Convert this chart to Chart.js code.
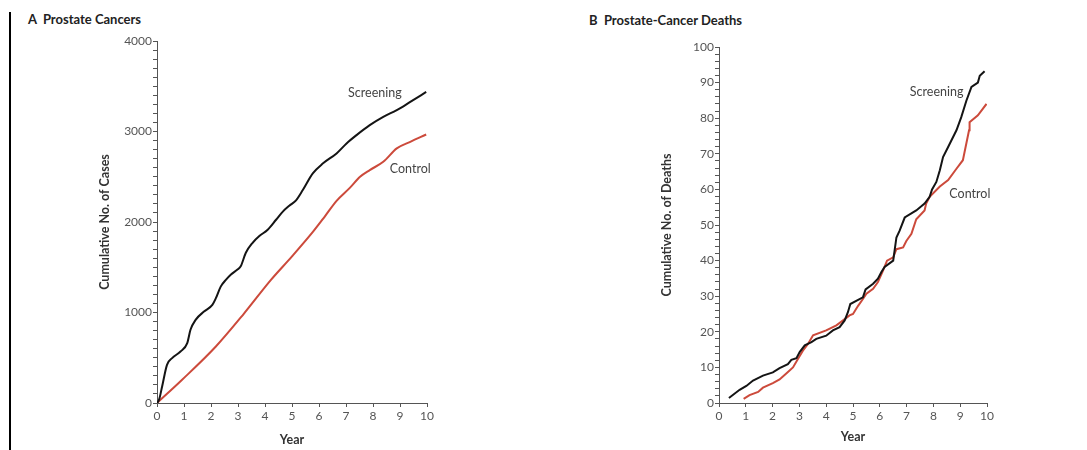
<!DOCTYPE html>
<html>
<head>
<meta charset="utf-8">
<script src="https://cdn.jsdelivr.net/npm/chart.js@4.4.1/dist/chart.umd.min.js"></script>
<style>
  body { margin: 0; background: #fff; width: 1087px; height: 450px; overflow: hidden; position: relative; }
  #bar { position: absolute; left: 9px; top: 12px; width: 2px; height: 438px; background: #000; }
  .title { position: absolute; font: bold 13px Lato, sans-serif; color: #222; white-space: pre; }
  canvas { position: absolute; top: 0; }
</style>
</head>
<body>
<div id="bar"></div>
<div class="title" style="left:28px;top:11px">A  Prostate Cancers</div>
<div class="title" style="left:589px;top:12px">B  Prostate-Cancer Deaths</div>
<canvas id="chartA" width="545" height="450" style="left:0;width:545px;height:450px"></canvas>
<canvas id="chartB" width="542" height="450" style="left:545px;width:542px;height:450px"></canvas>
<script>
// Panel A - cumulative number of prostate cancers
const screeningYearsA = [0, 0.08, 0.19, 0.37, 0.56, 0.87, 1.12, 1.24, 1.43, 1.74, 2.05, 2.18, 2.36, 2.55, 2.74, 2.98, 3.1, 3.29, 3.54, 3.79, 4.1, 4.41, 4.66, 4.9, 5.15, 5.40, 5.77, 6.15, 6.65, 7.02, 7.39, 7.88, 8.38, 8.88, 9.38, 9.97];
const screeningCasesA = [0, 40, 183, 422, 496, 569, 662, 809, 919, 1010, 1084, 1158, 1286, 1360, 1420, 1475, 1510, 1660, 1770, 1845, 1915, 2025, 2115, 2180, 2240, 2353, 2537, 2648, 2758, 2868, 2960, 3070, 3162, 3236, 3327, 3437];
const controlYearsA = [0, 0.93, 2.18, 3.2, 4.22, 5.0, 5.78, 6.2, 6.65, 7.15, 7.52, 7.88, 8.38, 8.88, 9.38, 9.97];
const controlCasesA = [0, 257, 624, 980, 1360, 1620, 1893, 2055, 2234, 2380, 2500, 2574, 2665, 2813, 2886, 2967];

// Panel B - cumulative number of prostate-cancer deaths
const screeningYearsB = [0.37, 0.77, 1.02, 1.27, 1.64, 2.01, 2.26, 2.57, 2.7, 2.89, 3.01, 3.2, 3.45, 3.63, 4.0, 4.25, 4.5, 4.69, 4.81, 4.9, 5.12, 5.37, 5.47, 5.75, 5.93, 6.06, 6.18, 6.5, 6.62, 6.74, 6.93, 7.36, 7.67, 7.86, 7.95, 8.11, 8.24, 8.36, 8.55, 8.86, 9.04, 9.23, 9.42, 9.66, 9.73, 9.91];
const screeningDeathsB = [1.4, 3.7, 4.8, 6.3, 7.7, 8.6, 9.8, 10.9, 12.1, 12.6, 14.3, 16.2, 17.1, 18.0, 18.9, 20.4, 21.3, 23.2, 25.5, 27.8, 28.7, 29.7, 31.9, 33.5, 34.9, 36.8, 38.2, 40, 46.5, 48.4, 52.1, 54.1, 56, 57.9, 60, 62.1, 65.4, 69.1, 71.9, 76.6, 80.3, 84.9, 88.8, 90, 91.9, 93.2];
const controlYearsB = [0.92, 1.14, 1.46, 1.64, 2.01, 2.26, 2.51, 2.76, 2.95, 3.13, 3.32, 3.51, 4.0, 4.38, 4.63, 4.87, 5.0, 5.19, 5.37, 5.5, 5.75, 5.93, 6.12, 6.27, 6.5, 6.62, 6.87, 6.99, 7.18, 7.36, 7.67, 7.73, 7.86, 8.24, 8.55, 8.86, 9.1, 9.33, 9.35, 9.66, 9.98];
const controlDeathsB = [1.15, 2.2, 3.1, 4.3, 5.6, 6.6, 8.3, 10, 12.4, 14.7, 16.6, 19.0, 20.4, 21.8, 23.2, 24.6, 25, 27.3, 29.2, 30.7, 32.1, 34.0, 37.2, 40, 40.9, 43.2, 43.7, 45.5, 47.5, 51.6, 54.1, 56, 57.9, 60.8, 62.6, 65.8, 68.2, 76.6, 78.9, 80.8, 84];

const xTickValues = [0, 1, 2, 3, 4, 5, 6, 7, 8, 9, 10];

const BLACK = '#141414';
const RED = '#cc4a3b';
const AXIS = '#555';

const toPoints = (xs, ys) => xs.map((x, i) => ({ x: x, y: ys[i] }));

// writes "Screening" / "Control" next to the curves, at data coordinates
const seriesLabels = {
  id: 'seriesLabels',
  afterDatasetsDraw(chart, args, opts) {
    const { ctx, scales: { x, y } } = chart;
    ctx.save();
    ctx.font = '12.5px Lato, sans-serif';
    ctx.fillStyle = '#444';
    ctx.textAlign = 'center';
    ctx.textBaseline = 'middle';
    opts.items.forEach(it => {
      ctx.fillText(it.text, x.getPixelForValue(it.x), y.getPixelForValue(it.y));
    });
    ctx.restore();
  }
};

function makePanel(id, cfg) {
  return new Chart(document.getElementById(id), {
    type: 'line',
    data: {
      datasets: [
        {
          label: 'Screening',
          data: toPoints(cfg.sYears, cfg.sVals),
          borderColor: BLACK,
          borderWidth: 2,
          pointRadius: 0,
          fill: false,
          tension: cfg.tension,
          cubicInterpolationMode: cfg.tension ? 'monotone' : 'default'
        },
        {
          label: 'Control',
          data: toPoints(cfg.cYears, cfg.cVals),
          borderColor: RED,
          borderWidth: 2,
          pointRadius: 0,
          fill: false,
          tension: cfg.tension,
          cubicInterpolationMode: cfg.tension ? 'monotone' : 'default'
        }
      ]
    },
    options: {
      responsive: false,
      animation: false,
      events: [],
      layout: { padding: cfg.padding },
      scales: {
        x: {
          type: 'linear',
          min: 0,
          max: 10,
          afterBuildTicks: s => { s.ticks = xTickValues.map(v => ({ value: v })); },
          afterFit: s => { s.height = 45; },
          ticks: {
            autoSkip: false,
            maxRotation: 0,
            padding: 2,
            color: AXIS,
            font: { family: 'Lato', size: 12 }
          },
          grid: { drawOnChartArea: false, tickLength: 4, color: AXIS },
          border: { color: AXIS, width: 1 },
          title: {
            display: true,
            text: 'Year',
            color: '#333',
            font: { family: 'Lato', size: 12.5, weight: 'bold' },
            padding: { top: 0, bottom: cfg.xTitlePad }
          }
        },
        y: {
          type: 'linear',
          min: 0,
          max: cfg.yMax,
          afterFit: s => { s.width = 60; },
          ticks: {
            stepSize: cfg.minorStep,
            autoSkip: false,
            padding: 1,
            color: AXIS,
            font: { family: 'Lato', size: 12 },
            callback: v => (v % cfg.majorStep === 0 ? String(v) : '')
          },
          grid: { drawOnChartArea: false, tickLength: 4, color: AXIS },
          border: { color: AXIS, width: 1 },
          title: {
            display: true,
            text: cfg.yTitle,
            color: '#333',
            font: { family: 'Lato', size: 12.5, weight: 'bold' },
            padding: { top: 0, bottom: 0 }
          }
        }
      },
      plugins: {
        legend: { display: false },
        tooltip: { enabled: false },
        seriesLabels: { items: cfg.labels }
      }
    },
    plugins: [seriesLabels]
  });
}

makePanel('chartA', {
  sYears: screeningYearsA, sVals: screeningCasesA,
  cYears: controlYearsA, cVals: controlCasesA,
  tension: 0.4,
  yMax: 4000, minorStep: 100, majorStep: 1000,
  yTitle: 'Cumulative No. of Cases',
  xTitlePad: 1,
  padding: { left: 97, top: 41, right: 118, bottom: 2 },
  labels: [
    { text: 'Screening', x: 8.07, y: 3423 },
    { text: 'Control', x: 9.38, y: 2585 }
  ]
});

makePanel('chartB', {
  sYears: screeningYearsB, sVals: screeningDeathsB,
  cYears: controlYearsB, cVals: controlDeathsB,
  tension: 0,
  yMax: 100, minorStep: 2, majorStep: 10,
  yTitle: 'Cumulative No. of Deaths',
  xTitlePad: 4,
  padding: { left: 114, top: 47, right: 100, bottom: 2 },
  labels: [
    { text: 'Screening', x: 8.12, y: 87.3 },
    { text: 'Control', x: 9.36, y: 58.7 }
  ]
});
</script>
</body>
</html>
